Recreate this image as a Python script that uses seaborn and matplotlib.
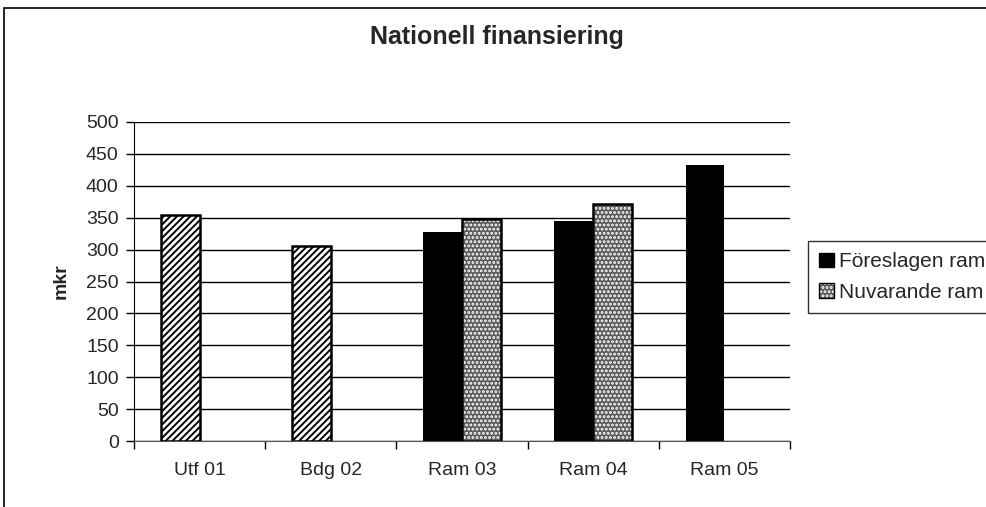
import pandas
import numpy
import matplotlib
import matplotlib.pyplot as plt
from matplotlib.patches import Patch, Rectangle
from matplotlib.ticker import FixedLocator
import seaborn

# data
kategorier = ['Utf 01', 'Bdg 02', 'Ram 03', 'Ram 04', 'Ram 05']
foreslagen = [354, 305, 328, 345, 432]
nuvarande = [numpy.nan, numpy.nan, 348, 372, numpy.nan]
serier = ['Föreslagen ram', 'Nuvarande ram']
# staplar i första serien som är streckade (utfall/budget)
streckade = ['Utf 01', 'Bdg 02']
yticks = list(range(0, 501, 50))

df = pandas.DataFrame({
    'kategori': kategorier * 2,
    'serie': [serier[0]] * len(kategorier) + [serier[1]] * len(kategorier),
    'mkr': foreslagen + nuvarande,
})

seaborn.set_style('white')
plt.rcParams['font.family'] = ['Liberation Sans', 'DejaVu Sans']
plt.rcParams['hatch.linewidth'] = 1.4

grå = '#5a5a5a'

fig = plt.figure(figsize=(9.87, 5.07), dpi=100)
ax = fig.add_axes([134 / 987, 1 - 441 / 507, 656 / 987, 319 / 507])

seaborn.barplot(data=df, x='kategori', y='mkr', hue='serie', order=kategorier,
                hue_order=serier, palette=['black', grå], width=0.59,
                errorbar=None, ax=ax, legend=False, zorder=3,
                edgecolor='black', linewidth=1.5)

for bar in ax.containers[0]:
    i = int(round(bar.get_x() + bar.get_width() / 2 + 0.1))
    if kategorier[i] in streckade:
        bar.set_facecolor('white')
        bar.set_hatch('/////')
        bar.set_linewidth(1.8)
    else:
        bar.set_linewidth(0)
for bar in ax.containers[1]:
    bar.set_hatch('....')
    bar.set_linewidth(1.8)
    bar._hatch_color = (1, 1, 1, 1)

ax.set_xlim(-0.5, 4.5)
ax.set_ylim(0, 500)
ax.set_yticks(yticks)
ax.grid(axis='y', color='black', linewidth=1, zorder=0)
ax.set_axisbelow(True)
for s in ['top', 'right']:
    ax.spines[s].set_visible(False)
ax.spines['left'].set_color('black')
ax.spines['bottom'].set_color('#555555')
ax.tick_params(axis='y', direction='out', length=6, width=1, color='black',
               labelsize=14, left=True, pad=5)
ax.tick_params(axis='x', which='major', length=0, labelsize=14, pad=15)
ax.xaxis.set_minor_locator(FixedLocator(numpy.arange(-0.5, 4.6, 1)))
ax.tick_params(axis='x', which='minor', direction='out', length=6, width=1,
               color='black', bottom=True)
ax.set_xlabel('')
ax.set_ylabel('mkr', fontsize=14, fontweight='bold', labelpad=12)

fig.suptitle('Nationell finansiering', fontsize=18, fontweight='bold',
             x=497 / 987, y=1 - 25 / 507, va='top')

handles = [Patch(facecolor='black', edgecolor='black'),
           Patch(facecolor=grå, edgecolor='black', hatch='....')]
leg = fig.legend(handles, serier, loc='upper left',
                 bbox_to_anchor=(808 / 987, 1 - 241 / 507), fontsize=15,
                 frameon=True, fancybox=False, edgecolor='black',
                 borderaxespad=0, handlelength=0.7, handleheight=0.7,
                 handletextpad=0.25, borderpad=0.55, labelspacing=0.55)
leg.get_frame().set_linewidth(1)
leg.legend_handles[1]._hatch_color = (1, 1, 1, 1)

# ram runt diagramytan
fig.patches.append(Rectangle((4 / 987, -0.1), 1.1, 1.1 - 8 / 507,
                             transform=fig.transFigure, fill=False,
                             edgecolor='black', linewidth=1.2))

plt.savefig('out.png', dpi=100)
